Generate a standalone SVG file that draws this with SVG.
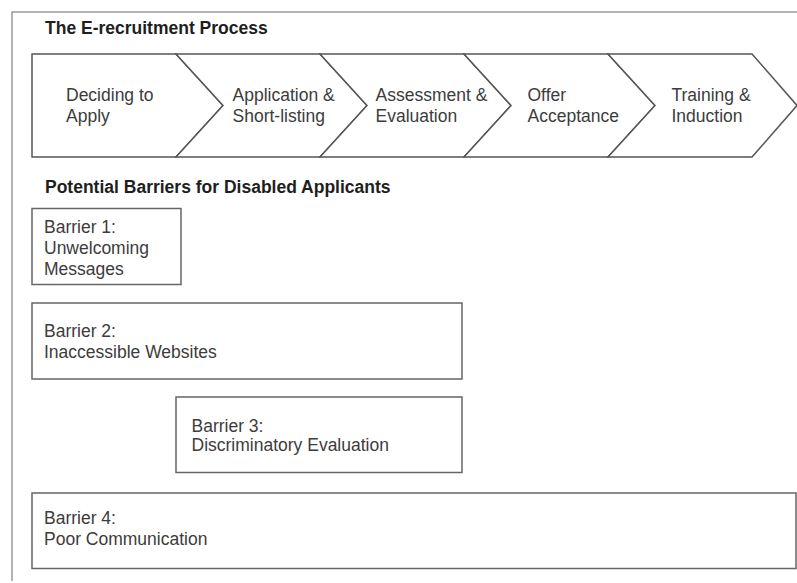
<svg xmlns="http://www.w3.org/2000/svg" width="797" height="583" viewBox="0 0 797 583">
  <style>
    .frame { fill: none; stroke: #9a9a9a; stroke-width: 1.5; }
    .step { fill: #ffffff; stroke: #555555; stroke-width: 1.5; stroke-linejoin: miter; }
    .box { fill: #ffffff; stroke: #666666; stroke-width: 1.5; }
    .heading { font-family: "Liberation Sans", Arial, sans-serif; font-weight: bold; font-size: 17.5px; fill: #1e1e1e; }
    .label { font-family: "Liberation Sans", Arial, sans-serif; font-size: 17.5px; fill: #3c3c3c; }
  </style>
  <rect x="0" y="0" width="797" height="583" fill="#ffffff"/>

  <!-- outer frame, open to the right and bottom -->
  <path class="frame" d="M12,581 V12 H797"/>

  <text class="heading" x="45" y="33.5">The E-recruitment Process</text>

  <!-- process steps -->
  <g id="step-deciding">
    <path class="step" d="M32,54 L176,54 L223,105.5 L176,157 L32,157 Z"/>
    <text class="label" x="66" y="101">Deciding to</text>
    <text class="label" x="66" y="121.5">Apply</text>
  </g>
  <g id="step-application">
    <path class="step" d="M176,54 L320,54 L367,105.5 L320,157 L176,157 L223,105.5 Z"/>
    <text class="label" x="232.5" y="101">Application &amp;</text>
    <text class="label" x="232.5" y="121.5">Short-listing</text>
  </g>
  <g id="step-assessment">
    <path class="step" d="M320,54 L464,54 L511,105.5 L464,157 L320,157 L367,105.5 Z"/>
    <text class="label" x="375.5" y="101">Assessment &amp;</text>
    <text class="label" x="375.5" y="121.5">Evaluation</text>
  </g>
  <g id="step-offer">
    <path class="step" d="M464,54 L608,54 L655,105.5 L608,157 L464,157 L511,105.5 Z"/>
    <text class="label" x="527.5" y="101">Offer</text>
    <text class="label" x="527.5" y="121.5">Acceptance</text>
  </g>
  <g id="step-training">
    <path class="step" d="M608,54 L752,54 L797,105.5 L752,157 L608,157 L655,105.5 Z"/>
    <text class="label" x="671.5" y="101">Training &amp;</text>
    <text class="label" x="671.5" y="121.5">Induction</text>
  </g>

  <g id="connectors"/>

  <text class="heading" x="45" y="193">Potential Barriers for Disabled Applicants</text>

  <!-- barriers -->
  <g id="barrier-1">
    <rect class="box" x="32" y="208.5" width="149" height="76"/>
    <text class="label" x="44" y="232.5">Barrier 1:</text>
    <text class="label" x="44" y="254">Unwelcoming</text>
    <text class="label" x="44" y="275">Messages</text>
  </g>
  <g id="barrier-2">
    <rect class="box" x="32" y="303" width="430" height="76"/>
    <text class="label" x="44" y="336.5">Barrier 2:</text>
    <text class="label" x="44" y="358">Inaccessible Websites</text>
  </g>
  <g id="barrier-3">
    <rect class="box" x="176" y="397" width="286" height="75.5"/>
    <text class="label" x="191.5" y="431.5">Barrier 3:</text>
    <text class="label" x="191.5" y="451">Discriminatory Evaluation</text>
  </g>
  <g id="barrier-4">
    <rect class="box" x="32" y="493" width="764" height="75.5"/>
    <text class="label" x="44" y="524">Barrier 4:</text>
    <text class="label" x="44" y="544.5">Poor Communication</text>
  </g>
</svg>
